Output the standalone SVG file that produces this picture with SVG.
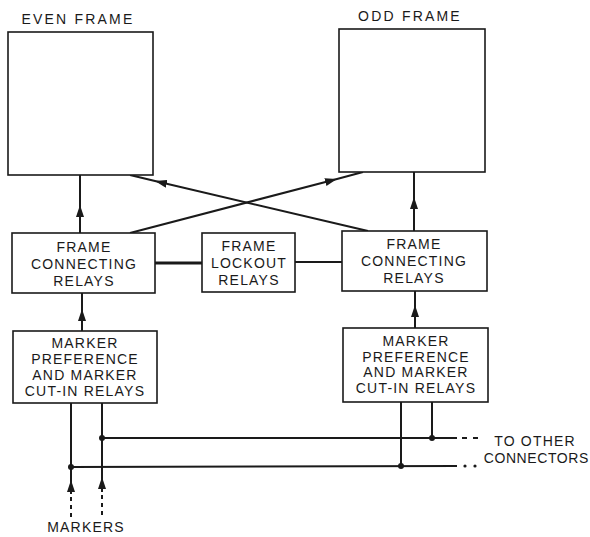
<svg xmlns="http://www.w3.org/2000/svg" width="590" height="537" viewBox="0 0 590 537">
<defs>
<marker id="ah" markerUnits="userSpaceOnUse" markerWidth="12" markerHeight="8" refX="12" refY="4" orient="auto"><path d="M0,0 L12,4 L0,8 z" fill="#1a1a1a"/></marker>
<style>
text{font-family:"Liberation Sans",Arial,sans-serif;font-size:14px;letter-spacing:1.2px;fill:#1a1a1a;text-anchor:middle}
.box{fill:#fff;stroke:#1a1a1a;stroke-width:1.6}
.w{fill:none;stroke:#1a1a1a;stroke-width:2}
.thick{fill:none;stroke:#1a1a1a;stroke-width:3}
.dash{fill:none;stroke:#1a1a1a;stroke-width:2;stroke-dasharray:4,4}
.dot{fill:#1a1a1a}
</style>
</defs>
<rect width="590" height="537" fill="#fff"/>
<g id="connectors">
<polyline class="w" points="80,233 80,205 80,175" marker-mid="url(#ah)"/>
<polyline class="w" points="414,231 414,197 414,172" marker-mid="url(#ah)"/>
<polyline class="w" points="130,233 337,179 363,172" marker-mid="url(#ah)"/>
<polyline class="w" points="368,231 155,181 130,175" marker-mid="url(#ah)"/>
<line class="thick" x1="155" y1="263" x2="202" y2="263"/>
<line class="w" x1="295" y1="262" x2="342" y2="262"/>
<polyline class="w" points="82,331 82,309 82,293" marker-mid="url(#ah)"/>
<polyline class="w" points="415,328 415,305 415,291" marker-mid="url(#ah)"/>
<polyline class="w" points="71,494 71,480 71,403" marker-mid="url(#ah)"/>
<polyline class="w" points="102,492 102,477 102,403" marker-mid="url(#ah)"/>
<line class="dash" x1="71" y1="497" x2="71" y2="518"/>
<line class="dash" x1="102" y1="495" x2="102" y2="516"/>
<line class="w" x1="102" y1="438" x2="457" y2="438"/>
<line class="w" x1="71" y1="467" x2="457" y2="466"/>
<line class="w" x1="401" y1="402" x2="401" y2="466"/>
<line class="w" x1="432" y1="402" x2="432" y2="438"/>
<line class="w" x1="462" y1="438" x2="467" y2="438"/>
<line class="w" x1="473" y1="438" x2="478" y2="438"/>
<circle class="dot" cx="465" cy="466" r="1.6"/>
<circle class="dot" cx="475" cy="466" r="1.6"/>
<circle class="dot" cx="102" cy="438" r="3"/>
<circle class="dot" cx="432" cy="438" r="3"/>
<circle class="dot" cx="71" cy="467" r="3"/>
<circle class="dot" cx="401" cy="466" r="3"/>
</g>
<g id="even-frame">
<rect class="box" x="8" y="32" width="145" height="143"/>
<text x="78" y="24" style="letter-spacing:2.2px">EVEN FRAME</text>
</g>
<g id="odd-frame">
<rect class="box" x="339" y="29" width="146" height="143"/>
<text x="410" y="21" style="letter-spacing:2.2px">ODD FRAME</text>
</g>
<g id="fcr-left">
<rect class="box" x="12" y="233" width="143" height="60"/>
<text x="84" y="252">FRAME</text>
<text x="84" y="269">CONNECTING</text>
<text x="84" y="286">RELAYS</text>
</g>
<g id="lockout">
<rect class="box" x="202" y="233" width="93" height="59"/>
<text x="249" y="251">FRAME</text>
<text x="249" y="268">LOCKOUT</text>
<text x="249" y="285">RELAYS</text>
</g>
<g id="fcr-right">
<rect class="box" x="342" y="231" width="145" height="60"/>
<text x="414" y="249">FRAME</text>
<text x="414" y="266">CONNECTING</text>
<text x="414" y="283">RELAYS</text>
</g>
<g id="marker-left">
<rect class="box" x="13" y="331" width="144" height="72"/>
<text x="85" y="348">MARKER</text>
<text x="85" y="364">PREFERENCE</text>
<text x="85" y="380">AND MARKER</text>
<text x="85" y="396">CUT-IN RELAYS</text>
</g>
<g id="marker-right">
<rect class="box" x="343" y="328" width="145" height="74"/>
<text x="416" y="346">MARKER</text>
<text x="416" y="362">PREFERENCE</text>
<text x="416" y="377">AND MARKER</text>
<text x="416" y="393">CUT-IN RELAYS</text>
</g>
<g id="labels">
<text x="86" y="532">MARKERS</text>
<text x="535" y="446">TO OTHER</text>
<text x="589" y="463" style="text-anchor:end;letter-spacing:0.6px">CONNECTORS</text>
</g>
</svg>
